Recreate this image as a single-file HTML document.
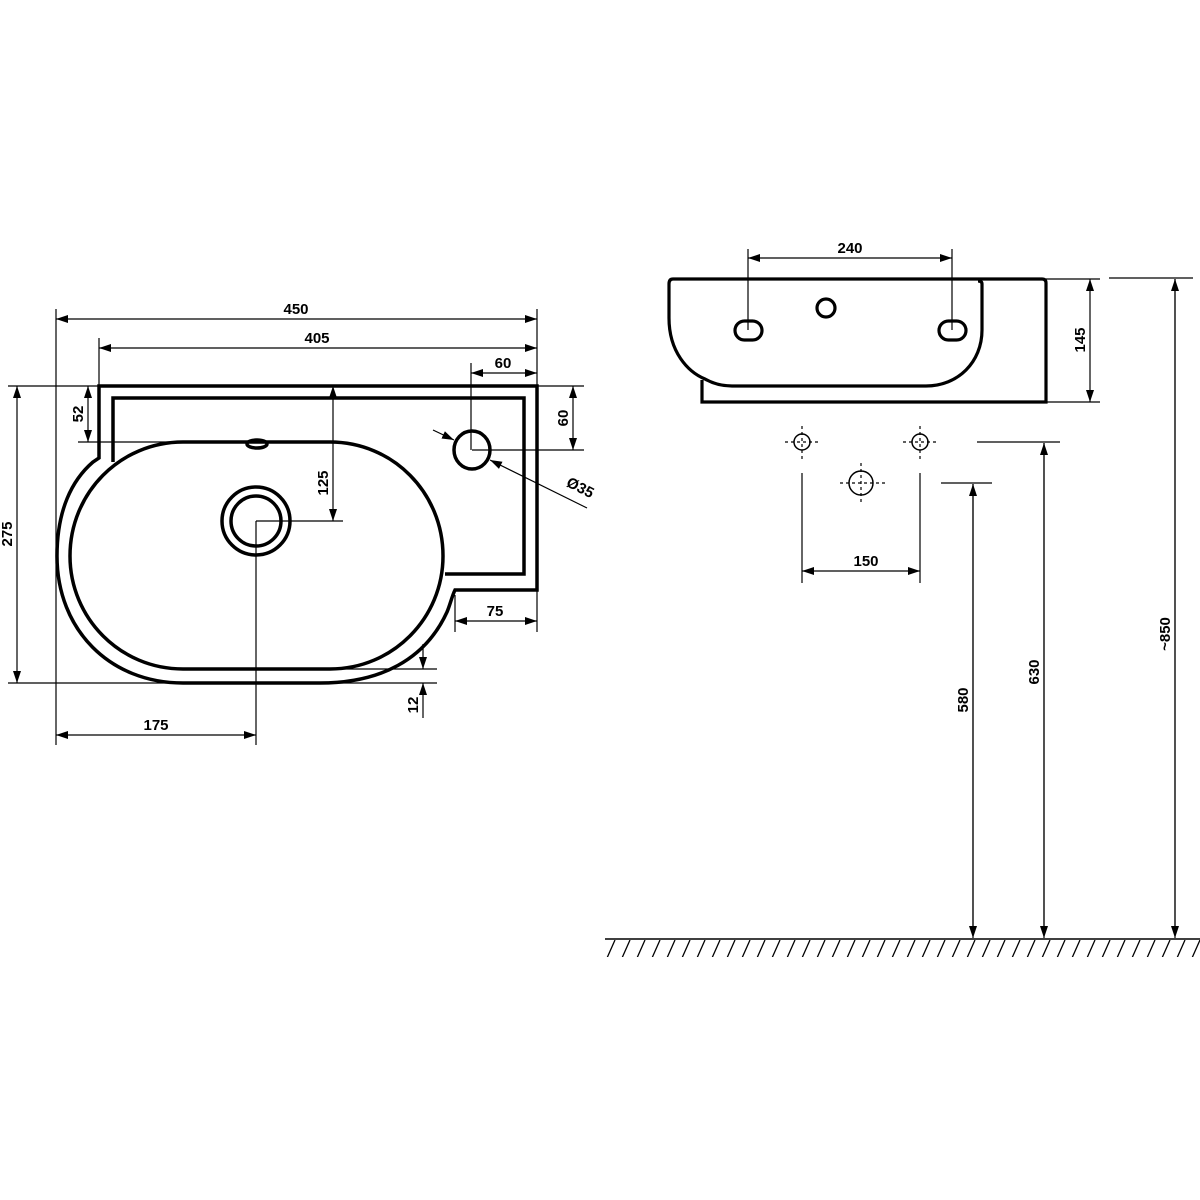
<!DOCTYPE html>
<html><head><meta charset="utf-8"><style>html,body{margin:0;padding:0;background:#fff}svg{display:block}</style></head><body>
<svg width="1200" height="1200" viewBox="0 0 1200 1200" xmlns="http://www.w3.org/2000/svg" font-family="Liberation Sans, sans-serif" font-weight="bold" font-size="15">
<defs>
<marker id="a" viewBox="0 0 12 8" refX="12" refY="4" markerWidth="12" markerHeight="8" markerUnits="userSpaceOnUse" orient="auto-start-reverse"><path d="M0,0 L12,4 L0,8 z" fill="#000"/></marker>
<pattern id="h" width="15" height="20" patternUnits="userSpaceOnUse" x="605"><line x1="10" y1="0" x2="2" y2="18" stroke="#000" stroke-width="1.3"/></pattern>
</defs>
<rect width="1200" height="1200" fill="#fff"/>
<g fill="none" stroke="#000">
<!-- top view outline -->
<g stroke-width="3.5">
<path d="M99,458 V386 H537 V590 H455 C452,596 450,605 447,612 C425,660 380,683 320,683 H183 C110,683 57,630 57,556 C57,510 72,480 93,462 Z"/>
<path d="M113,462 V398 H524 V574 H445"/>
<path d="M183,442 H330 C393,442 443,493 443,556 C443,618 393,669 330,669 H183 C120,669 70,618 70,556 C70,493 120,442 183,442 Z"/>
<ellipse cx="257" cy="444" rx="10" ry="4"/>
<circle cx="256" cy="521" r="34"/>
<circle cx="256" cy="521" r="25"/>
<ellipse cx="472" cy="450" rx="18" ry="19"/>
</g>
<g stroke-width="1.2">
<!-- 450 -->
<line x1="56" y1="309" x2="56" y2="745"/><line x1="537" y1="309" x2="537" y2="632"/>
<line x1="56" y1="319" x2="537" y2="319" marker-start="url(#a)" marker-end="url(#a)"/>
<!-- 405 -->
<line x1="99" y1="338" x2="99" y2="386"/>
<line x1="99" y1="348" x2="537" y2="348" marker-start="url(#a)" marker-end="url(#a)"/>
<!-- 60 top -->
<line x1="471" y1="363" x2="471" y2="450"/>
<line x1="471" y1="373" x2="537" y2="373" marker-start="url(#a)" marker-end="url(#a)"/>
<!-- 60 right -->
<line x1="537" y1="386" x2="584" y2="386"/><line x1="472" y1="450" x2="584" y2="450"/>
<line x1="573" y1="386" x2="573" y2="450" marker-start="url(#a)" marker-end="url(#a)"/>
<!-- 275 -->
<line x1="8" y1="386" x2="99" y2="386"/><line x1="8" y1="683" x2="437" y2="683"/>
<line x1="17" y1="386" x2="17" y2="683" marker-start="url(#a)" marker-end="url(#a)"/>
<!-- 52 -->
<line x1="78" y1="442" x2="183" y2="442"/>
<line x1="88" y1="386" x2="88" y2="442" marker-start="url(#a)" marker-end="url(#a)"/>
<!-- 125 -->
<line x1="256" y1="521" x2="343" y2="521"/>
<line x1="333" y1="386" x2="333" y2="521" marker-start="url(#a)" marker-end="url(#a)"/>
<!-- 175 -->
<line x1="256" y1="521" x2="256" y2="745"/>
<line x1="56" y1="735" x2="256" y2="735" marker-start="url(#a)" marker-end="url(#a)"/>
<!-- 75 -->
<line x1="455" y1="595" x2="455" y2="632"/>
<line x1="455" y1="621" x2="537" y2="621" marker-start="url(#a)" marker-end="url(#a)"/>
<!-- 12 -->
<line x1="330" y1="669" x2="437" y2="669"/>
<line x1="423" y1="644" x2="423" y2="669" marker-end="url(#a)"/>
<line x1="423" y1="718" x2="423" y2="683" marker-end="url(#a)"/>
<!-- Ø35 -->
<line x1="587" y1="508" x2="490" y2="460" marker-end="url(#a)"/>
<line x1="433" y1="430" x2="454" y2="440" marker-end="url(#a)"/>
</g>
<!-- side view -->
<g stroke-width="3.2">
<path d="M673,279 H1042 Q1046,279 1046,283 V402 H702 V380"/>
<path d="M673,279 Q669,279 669,284 V318 C669,352 688,372 705,379 C712,383 720,386 732,386 H926 C958,386 982,362 982,330 V284 Q982,281 978,281"/>
<circle cx="826" cy="308" r="9"/>
<rect x="735" y="321" width="27" height="19" rx="9.5"/>
<rect x="939" y="321" width="27" height="19" rx="9.5"/>
</g>
<g stroke-width="1.2">
<line x1="748" y1="249" x2="748" y2="330"/><line x1="952" y1="249" x2="952" y2="330"/>
<line x1="748" y1="258" x2="952" y2="258" marker-start="url(#a)" marker-end="url(#a)"/>
<line x1="1046" y1="279" x2="1100" y2="279"/><line x1="1046" y1="402" x2="1100" y2="402"/>
<line x1="1090" y1="279" x2="1090" y2="402" marker-start="url(#a)" marker-end="url(#a)"/>
<line x1="802" y1="473" x2="802" y2="583"/><line x1="920" y1="473" x2="920" y2="583"/>
<line x1="802" y1="571" x2="920" y2="571" marker-start="url(#a)" marker-end="url(#a)"/>
<line x1="977" y1="442" x2="1060" y2="442"/>
<line x1="1044" y1="935" x2="1044" y2="443" marker-end="url(#a)"/>
<line x1="941" y1="483" x2="992" y2="483"/>
<line x1="973" y1="935" x2="973" y2="484" marker-end="url(#a)"/>
<line x1="1109" y1="278" x2="1193" y2="278"/>
<line x1="1175" y1="935" x2="1175" y2="279" marker-end="url(#a)"/>
<line x1="973" y1="484" x2="973" y2="938" marker-end="url(#a)"/>
<line x1="1044" y1="443" x2="1044" y2="938" marker-end="url(#a)"/>
<line x1="1175" y1="279" x2="1175" y2="938" marker-end="url(#a)"/>
</g>
<g stroke-width="1.5">
<circle cx="802" cy="442" r="8"/><circle cx="920" cy="442" r="8"/><circle cx="861" cy="483" r="12"/>
</g>
<g stroke-width="1.2" stroke-dasharray="3,3">
<line x1="785" y1="442" x2="820" y2="442"/><line x1="802" y1="426" x2="802" y2="460"/>
<line x1="903" y1="442" x2="938" y2="442"/><line x1="920" y1="426" x2="920" y2="460"/>
<line x1="840" y1="483" x2="885" y2="483"/><line x1="861" y1="463" x2="861" y2="503"/>
</g>
<line x1="605" y1="939" x2="1200" y2="939" stroke-width="1.5"/>
</g>
<rect x="605" y="939" width="595" height="18" fill="url(#h)"/>
<g fill="#000" text-anchor="middle">
<text x="296" y="314">450</text>
<text x="317" y="343">405</text>
<text x="503" y="368">60</text>
<text x="156" y="730">175</text>
<text x="495" y="616">75</text>
<text x="850" y="253">240</text>
<text x="866" y="566">150</text>
<text transform="translate(12,534) rotate(-90)">275</text>
<text transform="translate(83,414) rotate(-90)">52</text>
<text transform="translate(328,483) rotate(-90)">125</text>
<text transform="translate(418,705) rotate(-90)">12</text>
<text transform="translate(568,418) rotate(-90)">60</text>
<text transform="translate(1085,340) rotate(-90)">145</text>
<text transform="translate(968,700) rotate(-90)">580</text>
<text transform="translate(1039,672) rotate(-90)">630</text>
<text transform="translate(1170,634) rotate(-90)">~850</text>
<text transform="translate(578,492) rotate(27)">Ø35</text>
</g>
</svg>
</body></html>
